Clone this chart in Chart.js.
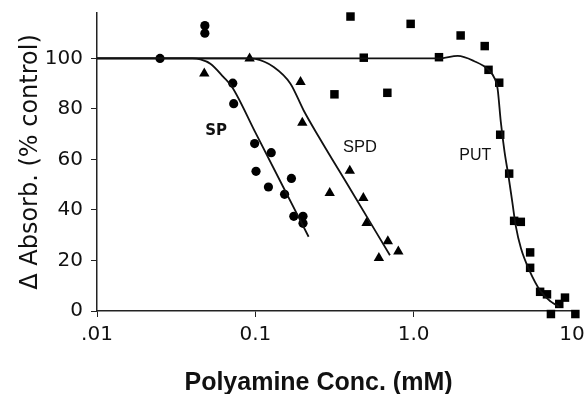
<!DOCTYPE html>
<html>
<head>
<meta charset="utf-8">
<script src="https://cdn.jsdelivr.net/npm/chart.js@4.4.1/dist/chart.umd.min.js"></script>
<style>
html, body { margin: 0; padding: 0; background: #fff; }
#wrap { width: 587px; height: 394px; }
</style>
</head>
<body>
<div id="wrap"><canvas id="myChart" width="587" height="394"></canvas></div>
<script>
// axis ticks
const xTicks = [0.01, 0.1, 1, 10];
const xTickLabels = ['.01', '0.1', '1.0', '10'];
const yTicks = [0, 20, 40, 60, 80, 100];

// measured points: conc (mM) and absorbance (% control)
const spConc = [0.025, 0.048, 0.048, 0.072, 0.073, 0.099, 0.126, 0.101, 0.169, 0.121, 0.153, 0.175, 0.2, 0.2];
const spAbs  = [100, 113, 110, 90.2, 82.1, 66.3, 62.7, 55.3, 52.5, 49.1, 46.2, 37.5, 37.5, 34.7];

const spdConc = [0.0476, 0.092, 0.193, 0.198, 0.395, 0.295, 0.481, 0.504, 0.687, 0.603, 0.80];
const spdAbs  = [94, 100, 90.7, 74.5, 55.5, 46.7, 44.7, 34.8, 27.6, 21, 23.6];

const putConc = [0.316, 0.399, 0.484, 0.682, 0.957, 1.445, 1.98, 2.81, 2.97, 3.47, 3.52, 4.01, 4.31, 4.75, 5.44, 5.44, 6.29, 6.95, 8.31, 9.03, 7.36, 10.5];
const putAbs  = [85.8, 116.6, 100.3, 86.4, 113.7, 100.5, 109.1, 104.9, 95.5, 90.4, 69.8, 54.4, 35.7, 35.3, 23.2, 17.1, 7.6, 6.6, 2.8, 5.3, -1.2, -1.2];

// fitted curves
const spFitConc = [0.01, 0.04, 0.045, 0.052, 0.063, 0.0713, 0.1, 0.15, 0.217];
const spFitAbs  = [100, 100, 99.6, 97.9, 92.6, 88.7, 70.7, 49.1, 29.4];
const spdFitConc = [0.01, 0.09, 0.1, 0.1306, 0.1667, 0.202, 0.252, 0.4, 0.708];
const spdFitAbs  = [100, 100, 99.8, 96.6, 90, 79.4, 68.9, 48, 22.1];
const putFitConc = [0.01, 1.45, 1.9, 2.4, 2.97, 3.25, 3.39, 3.55, 3.75, 3.98, 4.2, 4.42, 4.76, 5.37, 6.37, 7.36, 8.31];
const putFitAbs  = [100, 100, 101, 99, 95.5, 92, 88, 75, 63, 53, 43, 33.5, 24.8, 16.2, 7.6, 3.7, 1.7];

// curve names
const curveNames = ['SP', 'SPD', 'PUT'];
const nameConc = [0.0566, 0.458, 2.45];
const nameAbs = [71.1, 64.8, 61.4];

function pts(xs, ys) {
	return xs.map((x, i) => ({ x: x, y: ys[i] }));
}

function markers(xs, ys, style, r) {
	return {
		type: 'scatter',
		data: pts(xs, ys),
		pointStyle: style,
		pointRadius: r,
		pointHoverRadius: r,
		backgroundColor: '#000',
		borderColor: '#000',
		borderWidth: 0,
		clip: false
	};
}

function fit(xs, ys) {
	return {
		type: 'line',
		data: pts(xs, ys),
		showLine: true,
		pointRadius: 0,
		borderColor: '#111',
		borderWidth: 1.8,
		fill: false,
		cubicInterpolationMode: 'monotone'
	};
}

const textPlugin = {
	id: 'texts',
	afterDraw(chart) {
		const ctx = chart.ctx;
		const xs = chart.scales.x, ys = chart.scales.y;
		ctx.save();
		ctx.fillStyle = '#111';
		ctx.textAlign = 'center';
		ctx.textBaseline = 'middle';
		const fonts = ['bold 15px "DejaVu Sans"', '16.5px "Liberation Sans"', '16px "Liberation Sans"'];
		curveNames.forEach((t, i) => {
			ctx.font = fonts[i];
			ctx.fillText(t, xs.getPixelForValue(nameConc[i]), ys.getPixelForValue(nameAbs[i]));
		});
		// x axis title, sits a bit left of centre in the original
		ctx.font = 'bold 25px "Liberation Sans"';
		ctx.textBaseline = 'alphabetic';
		const area = chart.chartArea;
		ctx.fillText('Polyamine Conc. (mM)', (area.left + area.right) / 2 - 16, 390);
		ctx.restore();
	}
};

let ctx = document.getElementById('myChart').getContext('2d');
let chart = new Chart(ctx, {
	type: 'scatter',
	data: {
		datasets: [
			fit(spFitConc, spFitAbs),
			fit(spdFitConc, spdFitAbs),
			fit(putFitConc, putFitAbs),
			markers(spConc, spAbs, 'circle', 4.6),
			markers(spdConc, spdAbs, 'triangle', 6),
			markers(putConc, putAbs, 'rect', 6)
		]
	},
	options: {
		responsive: false,
		animation: false,
		devicePixelRatio: 1,
		layout: {
			padding: { left: 0, right: 15, top: 13, bottom: 0 }
		},
		plugins: {
			legend: { display: false },
			tooltip: { enabled: false }
		},
		scales: {
			x: {
				type: 'logarithmic',
				min: 0.01,
				max: 10,
				afterBuildTicks(scale) {
					scale.ticks = xTicks.map(v => ({ value: v }));
				},
				afterFit(scale) {
					scale.height = 83;
					scale.paddingLeft = 0;
					scale.paddingRight = 0;
				},
				border: { color: '#222', width: 1.5 },
				grid: { drawOnChartArea: false, drawTicks: true, tickLength: 6, color: '#222' },
				ticks: {
					color: '#111',
					font: { family: 'DejaVu Sans', size: 20 },
					padding: 6,
					maxRotation: 0,
					autoSkip: false,
					callback: function(v, i) { return xTickLabels[i]; }
				}
			},
			y: {
				min: 0,
				max: 118,
				afterBuildTicks(scale) {
					scale.ticks = yTicks.map(v => ({ value: v }));
				},
				afterFit(scale) {
					scale.width = 97;
					scale.paddingTop = 0;
					scale.paddingBottom = 0;
				},
				border: { color: '#222', width: 1.5 },
				grid: { drawOnChartArea: false, drawTicks: true, tickLength: 6, color: '#222' },
				ticks: {
					color: '#111',
					font: { family: 'DejaVu Sans', size: 20 },
					padding: 8
				},
				title: {
					display: true,
					text: 'Δ Absorb. (% control)',
					color: '#111',
					font: { family: 'DejaVu Sans', size: 24 },
					padding: { top: 16, bottom: 0 }
				}
			}
		}
	},
	plugins: [textPlugin]
});
</script>
</body>
</html>
